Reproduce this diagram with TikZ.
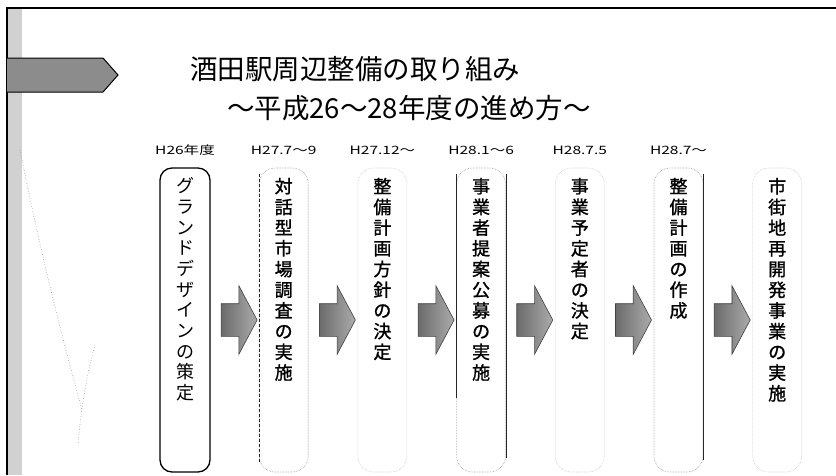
\documentclass[tikz,border=0pt]{standalone}
\usepackage{fontspec}
\newfontfamily\jp{Noto Sans CJK JP}
\newfontfamily\jpb[FakeBold=1.2]{Noto Sans CJK JP}
\newfontfamily\jpw[FakeStretch=1.35]{Noto Sans CJK JP}
\usetikzlibrary{shapes.arrows,calc}
\begin{document}
\begin{tikzpicture}[x=1pt,y=-1pt,
  box1/.style={draw=black, line width=1.3pt, rounded corners=12pt, minimum width=50pt, minimum height=304pt, inner sep=0pt},
  boxd/.style={draw=black!40, densely dotted, line width=.6pt, rounded corners=16pt, minimum width=49pt, minimum height=304pt, inner sep=0pt},
  boxf/.style={boxd, draw=black!22},
  vtext/.style={align=center, inner sep=0pt, anchor=north, font=\jpb\fontsize{18}{20.7}\selectfont},
  vtextr/.style={vtext, font=\jp\fontsize{18}{20.7}\selectfont},
  lab/.style={inner sep=0pt, font=\jpw\fontsize{11.5}{12}\selectfont},
  titletext/.style={anchor=west, inner sep=0pt, font=\jp\fontsize{27.5}{30}\selectfont},
  blk/.style={shape=single arrow, single arrow head extend=18pt, single arrow tip angle=124, minimum height=36pt, inner xsep=0pt, inner ysep=16pt, draw=black!75, line width=.6pt, left color=black!58, right color=black!33},
  sideline/.style={line width=.8pt, black!85}]
\useasboundingbox (0,0) rectangle (836,475);
\fill[white] (0,0) rectangle (836,475);
% frame and left strip
\fill[black!18] (7,8) rectangle (22,475);
\draw[line width=1.2pt] (7,475) -- (7,8) -- (836,8);
% faint background curves
\draw[black!45, dotted, line width=.6pt] (20,150) .. controls (40,250) and (60,330) .. (82,410);
\draw[black!45, dotted, line width=.6pt] (95,345) .. controls (85,380) and (80,420) .. (78,445);
% left banner arrow
\draw[fill=black!45, line width=1pt] (7,58) -- (103,58) -- (118,75) -- (103,92) -- (7,92);
% title
\node[titletext] (ti1) at (190,69) {酒田駅周辺整備の取り組み};
\node[titletext] (ti2) at (227,108) {～平成26～28年度の進め方～};
% boxes
\node[box1] (b1) at (185,320) {};
\node[boxd] (b2) at (283.7,320) {};
\node[boxf] (b3) at (382.4,320) {};
\node[boxd] (b4) at (481.1,320) {};
\node[boxf] (b5) at (579.8,320) {};
\node[boxd] (b6) at (678.5,320) {};
\node[boxf] (b7) at (777.2,320) {};
% visible solid sides of the scanned boxes
\draw[sideline, densely dashed] ([yshift=-6pt]b2.north west) -- ([yshift=10pt]b2.south west);
\draw[sideline] ([yshift=-6pt]b4.north west) -- ([yshift=74pt]b4.south west);
\draw[sideline] ([yshift=-6pt]b4.north east) -- ([yshift=14pt]b4.south east);
\draw[sideline] ([yshift=-6pt]b6.north east) -- ([yshift=12pt]b6.south east);
% labels
\node[lab] (l1) at ([yshift=17pt]b1.north) {H26年度};
\node[lab] (l2) at ([yshift=17pt]b2.north) {H27.7～9};
\node[lab] (l3) at ([yshift=17pt]b3.north) {H27.12～};
\node[lab] (l4) at ([yshift=17pt]b4.north) {H28.1～6};
\node[lab] (l5) at ([yshift=17pt]b5.north) {H28.7.5};
\node[lab] (l6) at ([yshift=17pt]b6.north) {H28.7～};
% vertical texts
\node[vtextr] (v1) at ([yshift=-10pt]b1.north) {グ\\ラ\\ン\\ド\\デ\\ザ\\イ\\ン\\の\\策\\定};
\node[vtext] (v2) at ([yshift=-10pt]b2.north) {対\\話\\型\\市\\場\\調\\査\\の\\実\\施};
\node[vtext] (v3) at ([yshift=-10pt]b3.north) {整\\備\\計\\画\\方\\針\\の\\決\\定};
\node[vtext] (v4) at ([yshift=-10pt]b4.north) {事\\業\\者\\提\\案\\公\\募\\の\\実\\施};
\node[vtext] (v5) at ([yshift=-10pt]b5.north) {事\\業\\予\\定\\者\\の\\決\\定};
\node[vtext] (v6) at ([yshift=-10pt]b6.north) {整\\備\\計\\画\\の\\作\\成};
\node[vtext] (v7) at ([yshift=-10pt]b7.north) {市\\街\\地\\再\\開\\発\\事\\業\\の\\実\\施};
% block arrows between boxes
\node[blk] (a1) at ($(b1.east)!.5!(b2.west)$) {};
\node[blk] (a2) at ($(b2.east)!.5!(b3.west)$) {};
\node[blk] (a3) at ($(b3.east)!.5!(b4.west)$) {};
\node[blk] (a4) at ($(b4.east)!.5!(b5.west)$) {};
\node[blk] (a5) at ($(b5.east)!.5!(b6.west)$) {};
\node[blk] (a6) at ($(b6.east)!.5!(b7.west)$) {};
\end{tikzpicture}
\end{document}
